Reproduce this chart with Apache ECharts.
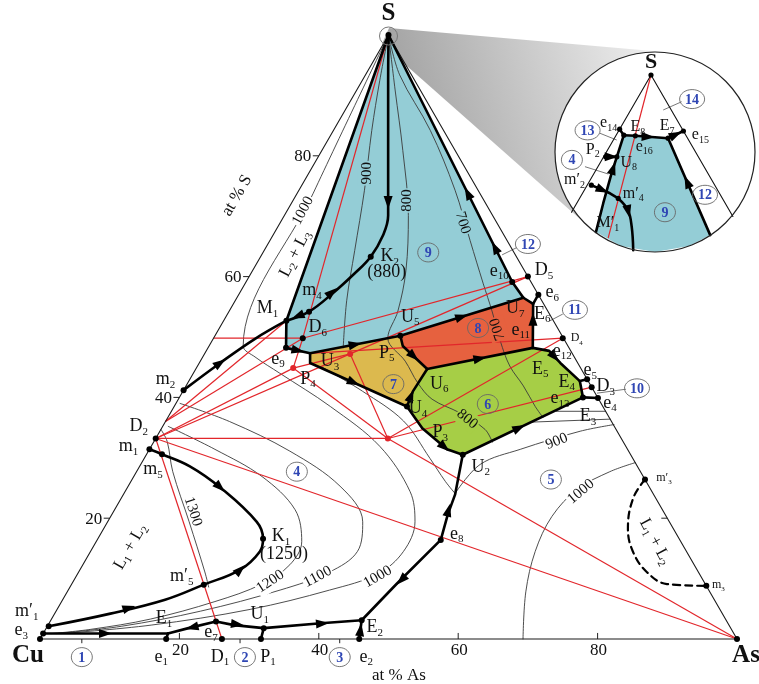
<!DOCTYPE html>
<html lang="en">
<head>
<meta charset="UTF-8">
<title>Cu–As–S liquidus projection</title>
<script src="https://cdn.jsdelivr.net/npm/echarts@6/dist/echarts.min.js"></script>
<style>
  html, body { margin: 0; padding: 0; background: #fff; }
  #chart { width: 759px; height: 684px; }
</style>
</head>
<body>
<div id="chart"></div>
<script>
// every composition is [at.% As, at.% S]; Cu is the balance
const corners = [['Cu', 0, 0], ['As', 100, 0], ['S', 0, 100]];

const edgePoints = [
  ['e1', 18.1, 0], ['D1', 26.1, 0], ['P1', 31.7, 0], ['e2', 45.8, 0],
  ['e3', 0, 0.9], ['m1p', 0.2, 2.1], ['m1', 0, 31.4], ['D2', 0, 33.2], ['Lp', 0, 36.0], ['m2', 0, 41.2], ['L50', 0, 49.8],
  ['D5', 40, 60], ['e6', 43, 57], ['D4', 50.1, 49.8], ['e5', 57, 43], ['D3', 58.3, 41.7], ['e4', 60.1, 39.9],
  ['m3p', 73.6, 26.4], ['m3', 91.2, 8.8]
];

const innerPoints = [
  ['E1', 17.9, 0.9], ['e7', 23.8, 2.9], ['U1', 31.2, 1.8], ['E2', 44.6, 3.1],
  ['m5p', 19.0, 9.0], ['K1', 23.7, 16.6], ['m5', 2.2, 30.6],
  ['M1', 9.0, 52.7], ['m4', 11.5, 54.2], ['K2', 15.8, 63.3], ['D6', 12.8, 49.8], ['e9', 11.2, 48.2],
  ['U3', 15.1, 47.3], ['P4', 15.9, 45.7], ['U5', 26.6, 50.2], ['P5', 27.8, 48.5],
  ['U6', 33.2, 44.7], ['G1', 33.0, 41.0], ['U4', 33.4, 38.5], ['P3', 37.4, 34.9], ['G2', 42.7, 31.4], ['U2', 45.4, 30.5],
  ['e8', 49.3, 16.4], ['e10', 38.2, 59.1], ['U7', 41.1, 56.5], ['E6', 43.0, 55.5], ['e11', 46.6, 48.2],
  ['e12', 49.2, 47.7], ['E5', 51.8, 45.7], ['E4', 56.1, 42.7], ['E3', 57.9, 40.0]
];

// tie-line junctions
const tiePoints = [['J', 33.3, 33.2], ['r1', 13.9, 44.85], ['r2', 20.9, 47.2]];

// primary crystallisation fields that are shaded
const fieldBlue = ['S', 'M1', 'e9', 'U3', 'U5', 'U7', 'e10'];
const fieldRed = ['U5', 'U7', 'E6', 'e11', 'U6', 'P5'];
const fieldYellow = ['U3', 'U5', 'P5', 'U6', 'G1', 'U4', 'P4'];
const fieldGreen = ['U6', 'e11', 'e12', 'E5', 'E4', 'E3', 'U2', 'G2', 'P3', 'U4', 'G1'];

// univariant lines (straight pieces)
const boundaries = [
  ['S', 'M1'], ['S', 'e10'], ['e10', 'U7'], ['e6', 'E6'], ['U7', 'E6'],
  ['M1', 'e9'], ['e9', 'U3'], ['U3', 'U5'], ['U5', 'U7'], ['U5', 'P5', 'U6'], ['U6', 'e11'], ['E6', 'e11'],
  ['e11', 'e12', 'E5', 'E4', 'E3'], ['E3', 'U2'], ['U2', 'G2', 'P3', 'U4', 'G1', 'U6'], ['U3', 'P4', 'U4'],
  ['e5', 'E4'], ['e4', 'E3'],
  ['U2', [47.6, 23.9], [48.2, 20.6], 'e8'], ['e8', [46.6, 9.1], 'E2'], ['e2', 'E2'], ['e1', 'E1'], ['P1', 'U1'],
  ['e3', 'E1'], ['E1', [20.4, 1.8], 'e7', [26.7, 2.3], 'U1', [39.0, 2.6], 'E2']
];
// univariant lines (curved)
const curvedBoundaries = [
  ['m2', [3.0, 45.7], [6.0, 49.7], 'M1'],
  ['M1', 'm4', [13.4, 57.3], [14.9, 60.6], 'K2', [15.8, 66.8], [14.9, 70.1], [9.5, 80.9], [3.7, 92.5], 'S'],
  ['m1', 'm5', [7.2, 28.6], [13.3, 25.1], [21.4, 19.4], 'K1', [24.3, 14.5], [23.0, 11.5], 'm5p', [14.7, 6.5], [8.0, 4.2], 'm1p']
];
const gapL1L2 = [[73.6, 26.4], [73.45, 23.3], [75.2, 18.3], [77.85, 14.45], [81.5, 11.1], [85.4, 9.1], [91.2, 8.8]];

// falling-temperature arrows: [from, to, fraction along]
const arrows = [
  ['e10', 'S', 0.14], ['e10', 'S', 0.36], [[9.5, 80.9], [14.9, 70.1], 0.8], ['m4', [14.9, 60.6], 0.5], ['m4', 'M1', 0.5],
  [[3.0, 45.7], [6.0, 49.7], 0], [[13.3, 25.1], [21.4, 19.4], 0], [[23.0, 11.5], [24.3, 14.5], 0], [[8.0, 4.2], 'm5p', 0.2],
  ['e3', 'E1', 0.5], ['e7', 'E1', 0.5], ['e7', 'U1', 0.45], ['U1', 'E2', 0.6], ['e2', 'E2', 0.5], ['e8', 'E2', 0.5],
  ['e8', 'U2', 0.35], ['P3', 'G2', 0.9], ['U4', 'G1', 0.7], ['U2', 'E3', 0.47], ['U6', 'e11', 0.5], ['e12', 'E5', 0.5],
  ['U5', 'U7', 0.5], ['P5', 'U6', 0.45], ['e11', 'E6', 0.65], ['U3', 'U5', 0.5], ['P4', 'U4', 0.45], ['e9', 'U3', 0.5]
];

// isotherms (deg C)
const iso1300 = [[0, 34.7], [1.9, 32.7], [5.2, 27.7], [11.7, 19.4], [18.1, 11.1], [19.9, 8.6]];
const iso1200 = [[0.8, 35.2], [9.4, 31.4], [18.4, 26.9], [25.9, 21.4], [29.5, 16.1], [29.7, 12.3], [27.3, 9.1], [22.0, 6.2], [14.2, 3.3], [6.5, 1.6], [1.2, 0.9]];
const iso1100 = [[0.6, 39.0], [9.2, 36.0], [20.3, 31.1], [30.4, 25.3], [36.6, 19.4], [38.3, 14.5], [36.0, 11.1], [30.4, 8.1], [20.7, 4.6], [10.6, 2.1], [1.9, 0.9]];
const iso1000 = [[0, 100], [2.3, 73.8], [4.9, 48.5], [7.5, 46.7], [12.4, 44.0], [22.4, 38.5], [32.8, 31.9], [40.9, 24.4], [44.1, 19.4], [44.9, 14.5], [43.1, 10.8], [37.5, 8.1], [27.7, 4.9], [14.8, 2.3], [2.7, 0.9]];
const iso900a = [[0, 100], [2.5, 92.5], [5.5, 84.2], [9.4, 74.3], [13.0, 64.3], [16.0, 56.0], [19.4, 48.2]];
const iso900b = [[18.0, 45.0], [25.8, 41.0], [34.1, 36.1], [41.0, 29.9], [45.1, 26.1], [47.5, 24.1]];
const iso900c = [[47.5, 24.1], [48.7, 28.9], [53.2, 31.4], [60.3, 34.4], [64.6, 35.5]];
const iso800 = [[0, 100], [5.5, 90.9], [11.6, 80.9], [17.8, 70.1], [22.0, 61.0], [24.2, 54.3], [25.0, 49.8], [29.4, 46.0], [33.0, 42.4], [36.4, 39.7], [41.6, 37.4], [46.5, 34.7], [48.6, 32.6]];
const iso700 = [[0, 100], [4.9, 93.4], [13.9, 84.2], [22.4, 74.3], [28.7, 66.0], [34.2, 58.8], [37.7, 54.3], [41.4, 49.3], [44.8, 45.2], [48.4, 41.9], [51.8, 38.5], [53.8, 36.7]];
const iso1000As = [[69.3, 0], [65.8, 7.8], [63.8, 14.5], [63.3, 20.3], [64.7, 24.8], [67.9, 27.7], [70.8, 29.2]];
const isoNearE3a = [[55.2, 37.7], [62.3, 37.7]];
const isoNearE3b = [[52.4, 35.9], [63.6, 36.4]];

const isoLabels = [
  ['1300', 11.4, 21.1], ['1200', 28.3, 9.5], ['1100', 34.7, 10.3], ['1000', 43.3, 10.3],
  ['1000', 2.3, 70.9], ['900', 8.4, 77.1], ['800', 16.3, 72.6], ['700', 26.2, 68.9],
  ['700', 40.0, 51.3], ['800', 43.1, 36.4], ['900', 57.8, 32.7], ['1000', 65.4, 24.4]
];

// conodes / tie lines
const tieLines = [
  ['S', 'D6'], ['L50', 'D6'], ['D6', 'D5'], ['r2', 'D5'], ['D6', 'r1'], ['r1', 'r2'], ['r2', 'J'], ['r1', 'J'],
  ['U3', 'D4'], ['D2', 'J'], ['D2', 'As'], ['J', 'As'], ['J', 'D4'], ['J', 'D3'], ['D2', 'D1'],
  ['Lp', 'D6'], ['Lp', 'M1'], ['D2', 'r1'], ['D2', 'r2']
];

const blackDots = ['Cu', 'As', 'S', 'e1', 'D1', 'P1', 'e2', 'e3', 'm1p', 'e7', 'U1', 'E2', 'm5p', 'K1', 'm5', 'm1', 'D2', 'm2',
  'M1', 'm4', 'K2', 'D6', 'e9', 'U4', 'U2', 'e8', 'e10', 'D5', 'e6', 'D4', 'e5', 'D3', 'e4', 'm3p', 'm3', 'U5', 'E3'];
const redDots = ['J', 'r1', 'r2'];

const pointLabels = [
  ['e3', 'e_3'], ['m1p', 'm′_1'], ['E1', 'E_1'], ['e1', 'e_1'], ['e7', 'e_7'], ['D1', 'D_1'], ['P1', 'P_1'], ['U1', 'U_1'], ['e2', 'e_2'], ['E2', 'E_2'],
  ['m5p', 'm′_5'], ['K1', 'K_1'], ['K1', '(1250)'], ['m5', 'm_5'], ['m1', 'm_1'], ['D2', 'D_2'], ['m2', 'm_2'],
  ['M1', 'M_1'], ['m4', 'm_4'], ['K2', 'K_2'], ['K2', '(880)'], ['D6', 'D_6'], ['e9', 'e_9'], ['U3', 'U_3'], ['P4', 'P_4'],
  ['U5', 'U_5'], ['P5', 'P_5'], ['U6', 'U_6'], ['U4', 'U_4'], ['P3', 'P_3'], ['U2', 'U_2'], ['e8', 'e_8'],
  ['U7', 'U_7'], ['E6', 'E_6'], ['e11', 'e_11'], ['e10', 'e_10'], ['D5', 'D_5'], ['e6', 'e_6'], ['D4', 'D_4'], ['e12', 'e_12'],
  ['E5', 'E_5'], ['E4', 'E_4'], ['e5', 'e_5'], ['D3', 'D_3'], ['e4', 'e_4'], ['E3', 'e_13'], ['E3', 'E_3'], ['m3p', 'm′_3'], ['m3', 'm_3']
];
const cornerLabels = [['S', 'S'], ['Cu', 'Cu'], ['As', 'As']];

const fieldNumbers = [
  ['1', 7.5, -3.0], ['2', 30.9, -3.0], ['3', 44.5, -3.0], ['4', 23.0, 27.7], ['5', 60.1, 26.4], ['6', 44.8, 38.9],
  ['7', 29.6, 42.2], ['8', 37.1, 51.5], ['9', 23.7, 64.0], ['10', 64.9, 41.5], ['11', 49.5, 54.5], ['12', 37.3, 65.4]
];
const fieldLeaders = [[[63.4, 41.36], [59.56, 40.7]], [[48.1, 53.8], [46.8, 52.66]], [[36.0, 64.8], [34.5, 63.6]]];

const freeLabels = [['at % As', 54.5, -6.0], ['at % S', -8.45, 73.4], ['L_1 + L_2', 5.3, 15.3], ['L_1 + L_2', 80.2, 16.1], ['L_2 + L_3', 4.7, 63.8]];

const leftTicks = [20, 40, 60, 80];
const baseTicks = [20, 40, 60, 80];
const rightTicks = [20];
const baseLeaders = [6.0, 28.7, 43.0];

// enlarged corner near S (inset)
const insetPoints = [
  ['iS', 0, 100], ['iL', 0, 97.72], ['iR', 2.35, 97.65],
  ['e14', 0, 99.1], ['E8', 0.11, 99.0], ['e16', 0.28, 98.99], ['E7', 0.77, 98.95], ['e15', 0.93, 99.07],
  ['P2', 0.03, 98.64], ['U8', 0.19, 98.64], ['m2p', 0.06, 98.17], ['m4p', 0.555, 97.95]
];
const insetField = ['E8', 'E7', [2.18, 97.34], [1.965, 97.16], [1.53, 97.06], [0.987, 97.16], [0.515, 97.39], [0.38, 97.87], [0.25, 98.37], 'U8'];
const insetBoundaries = [
  ['e14', 'E8'], ['E8', 'e16', 'E7'], ['E7', 'e15'], ['E7', [2.18, 97.34]],
  ['E8', 'U8', [0.25, 98.37], [0.38, 97.87], [0.515, 97.39]], ['P2', 'U8'], ['m2p', [0.394, 98.035], 'm4p']
];
const insetCurve = ['m4p', [0.79, 97.757], [0.983, 97.48], [1.2, 97.09]];
const insetTie = [['iS', [0.74, 97.29]]];
const insetArrows = [
  ['P2', 'U8', 0.5], ['m2p', [0.394, 98.035], 0.6], [[0.79, 97.757], [0.983, 97.48], 0.1], [[0.25, 98.37], 'U8', 0.3],
  ['E8', 'E7', 0.55], [[2.18, 97.34], 'E7', 0.55], ['E7', 'e15', 0.5]
];
const insetDots = ['iS', 'e14', 'e16', 'e15', 'P2', 'm2p', 'm4p', 'E8', 'E7', 'U8'];
const insetLabels = [['iS', 'S'], ['e14', 'e_14'], ['E8', 'E_8'], ['E7', 'E_7'], ['e15', 'e_15'], ['e16', 'e_16'], ['P2', 'P_2'], ['U8', 'U_8'], ['m2p', 'm′_2'], ['m4p', 'm′_4']];
const insetFree = [['M′_1', 0.61, 97.54]];
const insetNumbers = [['14', 0.79, 99.6], ['13', -0.45, 99.08], ['4', -0.43, 98.59], ['9', 1.34, 97.72], ['12', 1.77, 98.01]];
const insetLeaders = [[[0.662, 99.556], [0.466, 99.419]], [[-0.248, 99.032], [0.048, 98.92]], [[-0.186, 98.477], [0.21, 98.355]]];

// ---------- layout & styling ----------
const pointLabelShift = [
  [-22, -3], [-22, -15], [-4, -15], [-5, 18], [-5, 11], [-2, 18], [7, 18], [-4, -14], [7, 18], [13, 7],
  [-22, -8], [18, -2], [21, 16], [-9, 15], [-21, -3], [-17, -12], [-18, -11],
  [-19, -12], [3, -21], [19, 0], [16, 16], [15, -11], [-8, 11], [20, 8], [-2, 16],
  [10, -19], [-16, 7], [12, 15], [11, 2], [18, 4], [18, 12], [16, -6],
  [-8, 11], [9, 10], [-12, -18], [-13, -11], [16, -6], [14, -2], [14, 0], [13, 0],
  [-20, 6], [-13, 1], [3, -9], [14, -1], [12, 5], [-23, 1], [5, 19], [19, -2], [12, -1]
];
const cornerShift = [[0, -21], [-12, 17], [9, 17]];
const insetLabelShift = [[0, -13], [-11, -6], [14, -8], [-1, -12], [17, 4], [9, 11], [-13, -7], [12, 6], [-17, -5], [15, -5]];
const smallLabels = new Set(['D_4', 'm′_3', 'm_3']);
const isoTilt = [-72, 33, 28, 30, 62, 90, 90, -73, 108, -40, 22, 40];
const freeTilt = [0, 60, 60, -62, 63];

const BLUE = '#94cdd6', RED = '#e6613f', YELLOW = '#dcb94e', GREEN = '#a6ce46';
const isoBg = [null, '#fff', '#fff', '#fff', '#fff', BLUE, BLUE, BLUE, RED, GREEN, '#fff', '#fff'];
const serif = '"Liberation Serif", "DejaVu Serif", serif';

const R3 = Math.sqrt(3) / 2;
const MAIN = {}, INSET = {};
[corners, edgePoints, innerPoints, tiePoints].forEach(list => list.forEach(d => { MAIN[d[0]] = [d[1], d[2]]; }));
insetPoints.forEach(d => { INSET[d[0]] = [d[1], d[2]]; });

function comp(v, book) { return typeof v === 'string' ? book[v] : v; }
function toXY(v, book) { const c = comp(v, book); return [c[0] + c[1] / 2, c[1] * R3]; }

const series = [];

function addPath(pts, o) {
  const book = o.inset ? INSET : MAIN;
  series.push({
    type: 'line', xAxisIndex: o.inset ? 1 : 0, yAxisIndex: o.inset ? 1 : 0,
    data: pts.map(v => toXY(v, book)), smooth: o.smooth || false,
    showSymbol: false, silent: true, clip: false, z: o.z,
    lineStyle: { color: o.color, width: o.width, type: o.dash ? [7, 5] : 'solid', cap: 'round', join: 'round' }
  });
}

function addCustom(items, inset, z, draw) {
  const book = inset ? INSET : MAIN;
  series.push({
    type: 'custom', xAxisIndex: inset ? 1 : 0, yAxisIndex: inset ? 1 : 0, silent: true, clip: false, z: z,
    data: items.map(() => (inset ? [50, 85.5] : [50, 40])),
    renderItem: (params, api) => draw(items[params.dataIndex], v => api.coord(toXY(v, book)), book)
  });
}

function richText(label, size, bold) {
  const body = ('{b|' + label.replace(/_(\d+)/g, '}{s|$1}{b|') + '}').replace(/\{b\|\}/g, '');
  const sub = Math.round(size * 0.62);
  return {
    text: body, fill: '#111',
    rich: {
      b: { fontFamily: serif, fontSize: size, fontWeight: bold ? 'bold' : 'normal', lineHeight: size + 4, fill: '#111' },
      s: { fontFamily: serif, fontSize: sub, lineHeight: sub, verticalAlign: 'bottom', fill: '#111' }
    }
  };
}

function addTexts(list, inset) {
  addCustom(list, inset, 9, (t, c) => {
    const p = c(t.at);
    const sh = t.shift || [0, 0];
    const style = Object.assign(richText(t.text, t.size, t.bold), { align: 'center', verticalAlign: 'middle' });
    if (t.bg) { style.backgroundColor = t.bg; style.padding = [0, 1]; }
    return { type: 'text', x: p[0] + sh[0], y: p[1] + sh[1], rotation: (t.rot || 0) * Math.PI / 180, style: style };
  });
}

function addNumbers(list, inset) {
  addCustom(list, inset, 9, (n, c) => {
    const p = c([n[1], n[2]]);
    return {
      type: 'group', x: p[0], y: p[1], children: [
        { type: 'ellipse', shape: { cx: 0, cy: 0, rx: n[0].length > 1 ? 12.5 : 10.5, ry: 9.5 }, style: { fill: 'none', stroke: '#666', lineWidth: 0.9 } },
        { type: 'text', style: { text: n[0], x: 0, y: 1, align: 'center', verticalAlign: 'middle', fill: '#2f46b4', font: 'bold 14px ' + serif } }
      ]
    };
  });
}

function addSegments(pairs, inset, color, width, z) {
  addCustom(pairs, inset, z, (pr, c) => {
    const a = c(pr[0]), b = c(pr[1]);
    return { type: 'line', shape: { x1: a[0], y1: a[1], x2: b[0], y2: b[1] }, style: { stroke: color, lineWidth: width } };
  });
}

function addArrows(list, inset) {
  addCustom(list, inset, 6, (ar, c, book) => {
    const A = comp(ar[0], book), B = comp(ar[1], book), t = ar[2];
    const at = [A[0] + t * (B[0] - A[0]), A[1] + t * (B[1] - A[1])];
    const p = c(at), a = c(A), b = c(B);
    const ang = Math.atan2(b[1] - a[1], b[0] - a[0]);
    const cs = Math.cos(ang), sn = Math.sin(ang), L = 6.5, W = 4.5;
    return {
      type: 'polygon',
      shape: { points: [[p[0] + cs * L, p[1] + sn * L], [p[0] - cs * L - sn * W, p[1] - sn * L + cs * W], [p[0] - cs * L + sn * W, p[1] - sn * L - cs * W]] },
      style: { fill: '#000' }
    };
  });
}

function addDots(list, inset, color, r, z) {
  addCustom(list, inset, z, (d, c) => {
    const p = c(d);
    return { type: 'circle', shape: { cx: p[0], cy: p[1], r: r }, style: { fill: color } };
  });
}

// shaded fields
const fields = [fieldBlue, fieldRed, fieldYellow, fieldGreen];
const fieldColors = [BLUE, RED, YELLOW, GREEN];
addCustom(fields, false, 1, (f, c) => ({
  type: 'polygon', shape: { points: f.map(c) }, style: { fill: fieldColors[fields.indexOf(f)] }
}));

// isotherms
[iso1300, iso1200, iso1100, iso1000, iso900a, iso900b, iso900c, iso800, iso700, iso1000As].forEach(iso =>
  addPath(iso, { color: '#3a3a3a', width: 0.9, smooth: 0.35, z: 2 }));
[isoNearE3a, isoNearE3b].forEach(iso => addPath(iso, { color: '#3a3a3a', width: 0.9, z: 2 }));

// triangle
addPath(['Cu', 'As', 'S', 'Cu'], { color: '#1a1a1a', width: 1.1, z: 3 });

// tie lines
addSegments(tieLines, false, '#e2262b', 1.2, 3);

// ticks and leaders
const tickSegs = []
  .concat(leftTicks.map(s => [[0, s], [-0.86, s]]))
  .concat(baseTicks.map(a => [[a, 0], [a - 0.5, 1.0]]))
  .concat(rightTicks.map(s => [[100 - s, s], [99.14 - s, s]]))
  .concat(baseLeaders.map(a => [[a, 0], [a + 0.35, -0.7]]));
addSegments(tickSegs, false, '#222', 1, 3);
addSegments(fieldLeaders, false, '#555', 0.8, 3);

// univariant lines
boundaries.forEach(b => addPath(b, { color: '#000', width: 2.6, z: 4 }));
curvedBoundaries.forEach(b => addPath(b, { color: '#000', width: 2.6, smooth: 0.4, z: 4 }));
addPath(gapL1L2, { color: '#000', width: 2.2, smooth: 0.4, dash: true, z: 4 });
addArrows(arrows, false);
addDots(blackDots, false, '#000', 3, 7);
addDots(redDots, false, '#e2262b', 3, 7);
addCustom([['S']], false, 7, (d, c) => {
  const p = c(d[0]);
  return { type: 'circle', shape: { cx: p[0], cy: p[1] + 1, r: 9 }, style: { fill: 'none', stroke: '#777', lineWidth: 1 } };
});

// text
const mainTexts = [];
pointLabels.forEach((l, i) => mainTexts.push({ at: l[0], text: l[1], shift: pointLabelShift[i], size: smallLabels.has(l[1]) ? 12 : 18 }));
cornerLabels.forEach((l, i) => mainTexts.push({ at: l[0], text: l[1], shift: cornerShift[i], size: 25, bold: true }));
isoLabels.forEach((l, i) => mainTexts.push({ at: [l[1], l[2]], text: l[0], size: 15, rot: isoTilt[i], bg: isoBg[i] }));
freeLabels.forEach((l, i) => mainTexts.push({ at: [l[1], l[2]], text: l[0], size: 17, rot: freeTilt[i] }));
leftTicks.forEach(s => mainTexts.push({ at: [0, s], text: String(s), shift: [-16, 1], size: 17 }));
baseTicks.forEach(a => mainTexts.push({ at: [a, 0], text: String(a), shift: [1, 12], size: 17 }));
addTexts(mainTexts, false);
addNumbers(fieldNumbers, false);

// inset content
addCustom([insetField], true, 1, (f, c) => ({ type: 'polygon', shape: { points: f.map(c) }, style: { fill: BLUE } }));
addPath(['iS', 'iL'], { inset: true, color: '#111', width: 1.1, z: 3 });
addPath(['iS', 'iR'], { inset: true, color: '#111', width: 1.1, z: 3 });
addSegments(insetTie, true, '#e2262b', 1.2, 3);
addSegments(insetLeaders, true, '#555', 0.8, 3);
insetBoundaries.forEach(b => addPath(b, { inset: true, color: '#000', width: 2.6, z: 4 }));
addPath(insetCurve, { inset: true, color: '#000', width: 2.6, smooth: 0.4, z: 4 });
addArrows(insetArrows, true);
addDots(insetDots, true, '#000', 2.6, 7);
const insetTexts = [];
insetLabels.forEach((l, i) => insetTexts.push({ at: l[0], text: l[1], shift: insetLabelShift[i], size: l[0] === 'iS' ? 22 : 16, bold: l[0] === 'iS' }));
insetFree.forEach(l => insetTexts.push({ at: [l[1], l[2]], text: l[0], size: 16 }));
addTexts(insetTexts, true);
addNumbers(insetNumbers, true);

const chart = echarts.init(document.getElementById('chart'));
chart.setOption({
  animation: false,
  backgroundColor: '#fff',
  grid: [
    { left: 40, top: 35, width: 697, height: 604 },
    { left: 555, top: 52, width: 200, height: 200 }
  ],
  xAxis: [
    { type: 'value', min: 0, max: 100, show: false, gridIndex: 0 },
    { type: 'value', min: 48.6227, max: 51.4921, show: false, gridIndex: 1 }
  ],
  yAxis: [
    { type: 'value', min: 0, max: 100 * R3, show: false, gridIndex: 0 },
    { type: 'value', min: 84.0561, max: 86.9334, show: false, gridIndex: 1 }
  ],
  graphic: [
    {
      type: 'polygon', z: 0, silent: true,
      shape: { points: [[389, 28], [664, 52], [655, 152], [589, 227], [382, 44]] },
      style: { fill: { type: 'linear', x: 0, y: 0.6, x2: 1, y2: 0.2, colorStops: [{ offset: 0, color: '#9a9a9a' }, { offset: 1, color: '#f0f0f0' }] } }
    },
    { type: 'circle', z: 0, silent: true, shape: { cx: 655, cy: 152, r: 100 }, style: { fill: '#fff' } },
    { type: 'circle', z: 100, silent: true, shape: { cx: 655, cy: 152, r: 100 }, style: { fill: 'none', stroke: '#222', lineWidth: 1.2 } }
  ],
  series: series
});
</script>
</body>
</html>
